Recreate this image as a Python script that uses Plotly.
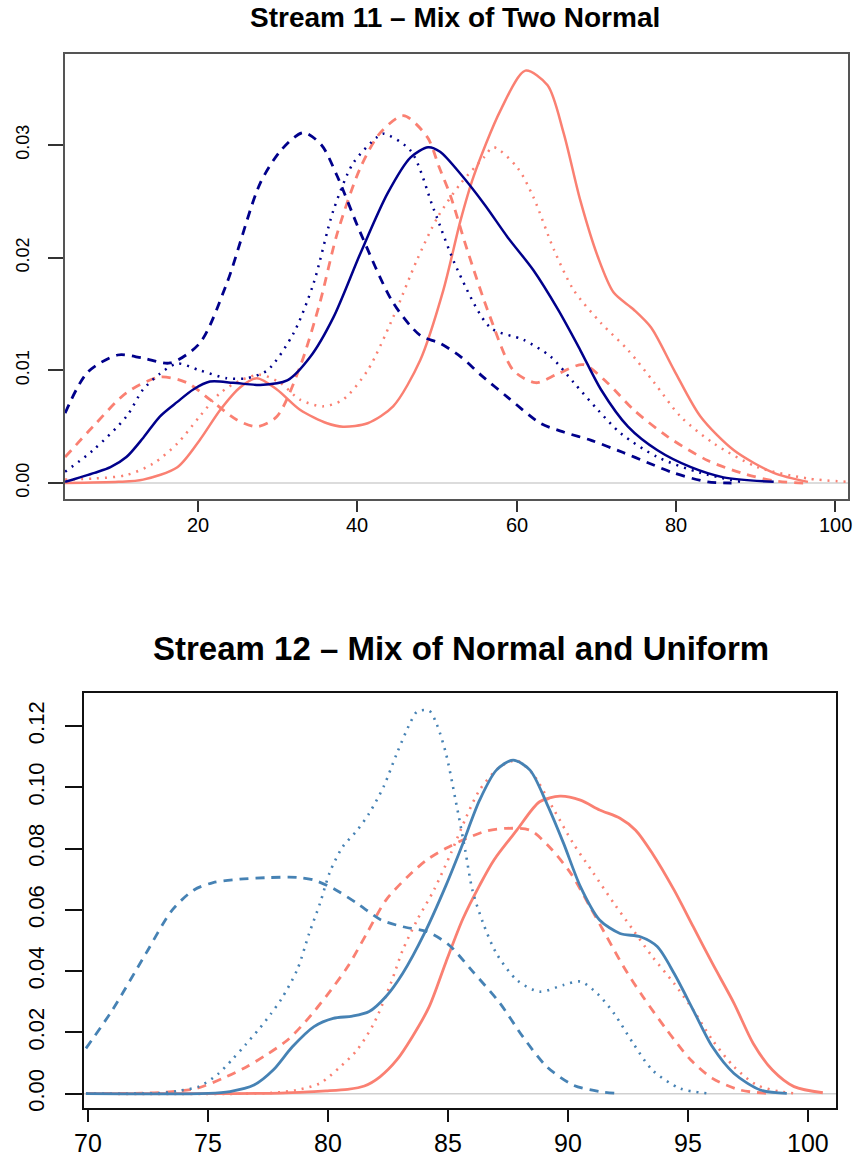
import plotly.graph_objects as go

# ---------------- Stream 11: mix of two normals ----------------
NAVY = "#00008B"
SALMON = "#FA8072"
STEEL = "#4682B4"

s11_navy_solid_x = [3.3, 7, 9, 11, 13.1, 15.2, 17.4, 19.4, 21.5, 24.4, 27.8, 31.2, 34.1, 37, 40.4, 43.8,
                    46.7, 48.9, 50.4, 53, 56, 58.9, 62.1, 65.2, 68, 70.6, 74, 77.7, 81.9, 86, 92.3]
s11_navy_solid_y = [0.0001, 0.0009, 0.0014, 0.0023, 0.004, 0.0059, 0.0072, 0.0083, 0.009, 0.0089, 0.0087,
                    0.0091, 0.0112, 0.0147, 0.0204, 0.0257, 0.0289, 0.0298, 0.0294, 0.0274, 0.0247, 0.0218,
                    0.0189, 0.0154, 0.0118, 0.0083, 0.005, 0.0029, 0.0014, 0.0005, 0.0001]

s11_navy_dash_x = [3.3, 6.1, 9.9, 13, 16.5, 20.2, 23.6, 27.8, 30.5, 33.2, 35.5, 37.5, 40.4, 44.5, 47.9,
                   50.4, 53, 55.5, 58.9, 63, 66, 69.3, 73.4, 76.5, 79.7, 84, 87]
s11_navy_dash_y = [0.0062, 0.0098, 0.01136, 0.0111, 0.01065, 0.0124, 0.0177, 0.0266, 0.0296, 0.0311, 0.0300,
                   0.0272, 0.0222, 0.016, 0.0131, 0.0124, 0.0112, 0.0096, 0.0076, 0.0053, 0.0045, 0.0038,
                   0.0027, 0.0018, 0.0009, 0.0001, 0.0]

s11_navy_dot_x = [3.3, 6.8, 11, 13.1, 15.2, 17.4, 20.2, 23.6, 26.1, 28.7, 32, 34.5, 37, 39.5, 42.5, 43.3,
                  46.7, 49.6, 52.6, 56.7, 60.9, 64.3, 67.2, 70.2, 73.1, 77.7, 83.1, 88.2]
s11_navy_dot_y = [0.001, 0.0029, 0.0059, 0.0083, 0.0097, 0.0106, 0.01, 0.0093, 0.0093, 0.01, 0.0133, 0.0177,
                  0.0242, 0.0284, 0.0307, 0.031, 0.0295, 0.0243, 0.0189, 0.0138, 0.0127, 0.0112, 0.0089,
                  0.0065, 0.0044, 0.0023, 0.0009, 0.0001]

s11_salmon_solid_x = [3.3, 10, 13.1, 17.4, 20.2, 22.8, 25.3, 27.4, 29.9, 32.8, 36.2, 38.2, 41.3, 44.5, 47.9,
                      50.8, 53, 54.6, 58, 61.1, 63.9, 65.9, 68, 70.2, 72.2, 74.7, 76.9, 79.8, 83.1, 87.3,
                      92.3, 96.6]
s11_salmon_solid_y = [0.0, 0.0001, 0.0003, 0.0014, 0.0038, 0.0065, 0.0085, 0.0093, 0.0083, 0.0065, 0.0053,
                      0.005, 0.0053, 0.0068, 0.0109, 0.0171, 0.0234, 0.0272, 0.0331, 0.0366, 0.0353, 0.0311,
                      0.0251, 0.0201, 0.0169, 0.0154, 0.0138, 0.01, 0.0059, 0.0029, 0.0009, 0.0001]

s11_salmon_dash_x = [3.3, 6.8, 11, 15.2, 18.6, 21.5, 24.9, 27.4, 29.9, 32.8, 35.3, 37.5, 40.4, 42.9, 45.8,
                     48.8, 50.3, 51.7, 53.8, 56.7, 59.6, 62.4, 65.2, 68.4, 71.4, 74.7, 79, 84, 88.2, 92.3, 96]
s11_salmon_dash_y = [0.0023, 0.005, 0.008, 0.0094, 0.0089, 0.0074, 0.0056, 0.005, 0.0059, 0.0103, 0.016,
                     0.0222, 0.028, 0.0311, 0.0326, 0.0307, 0.028, 0.0255, 0.0207, 0.0147, 0.01, 0.0089,
                     0.0097, 0.0105, 0.0089, 0.0065, 0.0041, 0.002, 0.0009, 0.0002, 0.0]

s11_salmon_dot_x = [3.3, 7, 11, 14.3, 17.4, 20.2, 22.8, 25.3, 27.8, 30.3, 32.8, 35.7, 38.2, 41.3, 44.5, 47.5,
                    50.1, 53, 55.9, 57.1, 60.1, 62.1, 64.7, 67.2, 70.6, 74, 77.3, 80.6, 84.8, 90.3, 96.6, 101.6]
s11_salmon_dot_y = [0.0003, 0.0004, 0.0007, 0.0017, 0.0035, 0.0059, 0.008, 0.0091, 0.0096, 0.0089, 0.0074,
                    0.0068, 0.0074, 0.01, 0.0147, 0.0198, 0.0236, 0.0266, 0.0289, 0.0298, 0.028, 0.0254,
                    0.0207, 0.0171, 0.0142, 0.0118, 0.0089, 0.0059, 0.0035, 0.0014, 0.0004, 0.0001]

# ---------------- Stream 12: mix of normal and uniform ----------------
s12_steel_solid_x = [69.9, 75, 75.9, 76.9, 77.7, 78.5, 79.4, 80.2, 81.0, 81.7, 82.4, 83.1, 84.0, 84.9, 85.55,
                     86.3, 87.0, 87.7, 88.4, 89.1, 89.8, 90.5, 91.3, 92.15, 93.0, 93.7, 94.4, 95.2, 96.0,
                     96.9, 98.0, 99.1]
s12_steel_solid_y = [0, 0.0001, 0.0007, 0.0028, 0.0077, 0.0153, 0.0219, 0.0246, 0.0253, 0.0268, 0.0317,
                     0.0393, 0.0523, 0.068, 0.0806, 0.0958, 0.1056, 0.1089, 0.1056, 0.0947, 0.0817, 0.0676,
                     0.0567, 0.0523, 0.0512, 0.048, 0.0393, 0.0273, 0.0153, 0.0066, 0.0012, 0.0001]

s12_steel_dash_x = [69.9, 71.0, 72.4, 73.5, 74.4, 75.2, 76.3, 77.4, 78.7, 79.4, 80.2, 81.2, 82.2, 83.1, 84.1,
                    85.0, 86.0, 87.15, 88.1, 89.1, 90.2, 91.3, 92.2]
s12_steel_dash_y = [0.0148, 0.0273, 0.0458, 0.06, 0.0665, 0.0689, 0.07, 0.0705, 0.0706, 0.0697, 0.067,
                    0.0621, 0.0567, 0.0545, 0.0529, 0.0487, 0.04, 0.0295, 0.0186, 0.0088, 0.0028, 0.0007, 0.0]

s12_steel_dot_x = [69.9, 73.0, 73.8, 74.6, 75.4, 76.0, 76.55, 77.1, 77.6, 78.05, 78.7, 79.2, 79.65, 80.07,
                   80.6, 81.2, 81.7, 82.3, 82.85, 83.4, 83.7, 84.2, 84.5, 84.9, 85.3, 85.7, 86.0, 86.45,
                   87.0, 87.85, 88.8, 89.8, 90.5, 91.2, 91.9, 92.7, 93.5, 94.65, 95.8]
s12_steel_dot_y = [0, 0.0002, 0.001, 0.0023, 0.0064, 0.0112, 0.016, 0.021, 0.026, 0.031, 0.0404, 0.0523,
                   0.0621, 0.0725, 0.0806, 0.086, 0.0915, 0.1002, 0.111, 0.1209, 0.1247, 0.125, 0.1209,
                   0.111, 0.0958, 0.0795, 0.0665, 0.0556, 0.0458, 0.0371, 0.0333, 0.0355, 0.0366, 0.0327,
                   0.0262, 0.0164, 0.0077, 0.0017, 0.0001]

s12_salmon_solid_x = [69.9, 78, 79.4, 79.9, 80.8, 81.5, 82.15, 82.85, 83.5, 84.2, 84.9, 85.6, 86.3, 86.9,
                      87.85, 88.8, 89.65, 90.5, 91.3, 92.15, 92.8, 93.5, 94.4, 95.2, 96.0, 96.9, 97.7, 98.5,
                      99.4, 100.6]
s12_salmon_solid_y = [0, 0.0002, 0.0007, 0.0009, 0.0014, 0.0025, 0.0055, 0.011, 0.0186, 0.0284, 0.043,
                      0.057, 0.068, 0.0763, 0.086, 0.0953, 0.0971, 0.0958, 0.0926, 0.0899, 0.086, 0.0784,
                      0.0665, 0.0545, 0.0425, 0.0295, 0.0164, 0.0077, 0.0023, 0.0003]

s12_salmon_dash_x = [69.9, 72.5, 73.5, 74.5, 75.6, 76.6, 77.4, 78.3, 79.1, 79.9, 80.8, 81.6, 82.4, 83.3,
                     84.1, 84.9, 85.75, 86.6, 87.4, 88.4, 89.2, 90.1, 90.9, 91.6, 92.3, 93.1, 94.1, 95.1,
                     96.0, 97.15, 98.3]
s12_salmon_dash_y = [0, 0.0002, 0.0007, 0.0017, 0.005, 0.0088, 0.0126, 0.0175, 0.024, 0.0317, 0.0414,
                     0.0523, 0.0632, 0.0708, 0.0763, 0.0801, 0.0833, 0.0858, 0.0866, 0.086, 0.0806, 0.0719,
                     0.061, 0.0512, 0.0414, 0.0317, 0.0208, 0.011, 0.005, 0.0012, 0.0001]

s12_salmon_dot_x = [69.9, 77.5, 78.7, 79.65, 80.5, 81.2, 81.9, 82.6, 83.1, 83.7, 84.4, 85.1, 85.75, 86.3,
                    87.15, 87.85, 88.5, 89.4, 90.2, 91.05, 91.9, 92.7, 93.5, 94.4, 95.2, 96.0, 96.9, 97.85,
                    98.8, 99.6]
s12_salmon_dot_y = [0, 0.0002, 0.0012, 0.0034, 0.0088, 0.0143, 0.023, 0.036, 0.0469, 0.0567, 0.0665,
                    0.0784, 0.0904, 0.0991, 0.1067, 0.1087, 0.1045, 0.0926, 0.0817, 0.0719, 0.0621, 0.0534,
                    0.0447, 0.036, 0.0273, 0.0175, 0.0088, 0.0028, 0.0007, 0.0]

s11_xticks = [20, 40, 60, 80, 100]
s11_yticks = [0.00, 0.01, 0.02, 0.03]
s12_xticks = [70, 75, 80, 85, 90, 95, 100]
s12_yticks = [0.00, 0.02, 0.04, 0.06, 0.08, 0.10, 0.12]

DASH = "9px,7px"
DOT = "2px,6px"

fig = go.Figure()


def add_curve(x, y, color, dash, width, xa, ya, name):
    fig.add_trace(go.Scatter(
        x=x, y=y, mode="lines", name=name, xaxis=xa, yaxis=ya,
        line=dict(color=color, width=width, dash=dash, shape="spline", smoothing=0.8),
        hoverinfo="skip", showlegend=False,
    ))


# top panel
add_curve(s11_salmon_dot_x, s11_salmon_dot_y, SALMON, DOT, 2.5, "x", "y", "salmon dotted")
add_curve(s11_salmon_dash_x, s11_salmon_dash_y, SALMON, DASH, 2.8, "x", "y", "salmon dashed")
add_curve(s11_salmon_solid_x, s11_salmon_solid_y, SALMON, "solid", 2.5, "x", "y", "salmon solid")
add_curve(s11_navy_dot_x, s11_navy_dot_y, NAVY, DOT, 2.5, "x", "y", "navy dotted")
add_curve(s11_navy_dash_x, s11_navy_dash_y, NAVY, DASH, 2.8, "x", "y", "navy dashed")
add_curve(s11_navy_solid_x, s11_navy_solid_y, NAVY, "solid", 2.5, "x", "y", "navy solid")

# bottom panel
add_curve(s12_salmon_dot_x, s12_salmon_dot_y, SALMON, DOT, 2.6, "x2", "y2", "salmon dotted")
add_curve(s12_salmon_dash_x, s12_salmon_dash_y, SALMON, DASH, 2.8, "x2", "y2", "salmon dashed")
add_curve(s12_salmon_solid_x, s12_salmon_solid_y, SALMON, "solid", 2.8, "x2", "y2", "salmon solid")
add_curve(s12_steel_dot_x, s12_steel_dot_y, STEEL, DOT, 2.6, "x2", "y2", "steel dotted")
add_curve(s12_steel_dash_x, s12_steel_dash_y, STEEL, DASH, 2.8, "x2", "y2", "steel dashed")
add_curve(s12_steel_solid_x, s12_steel_solid_y, STEEL, "solid", 2.8, "x2", "y2", "steel solid")

FONT = "Liberation Sans, Arial, sans-serif"

common = dict(showgrid=False, showline=True, mirror=True, ticks="outside", zeroline=False,
              automargin=False)

# x tick labels are placed as annotations so they sit at a fixed distance below each panel
tick_annotations = []
for v in s11_xticks:
    tick_annotations.append(dict(text=str(v), xref="x", yref="paper", x=v, y=0.5466,
                                 xanchor="center", yanchor="middle", showarrow=False,
                                 font=dict(size=20, family=FONT, color="black")))
for v in s12_xticks:
    tick_annotations.append(dict(text=str(v), xref="x2", yref="paper", x=v, y=0.0132,
                                 xanchor="center", yanchor="middle", showarrow=False,
                                 font=dict(size=25, family=FONT, color="black")))

fig.update_layout(
    width=861, height=1158,
    margin=dict(l=0, r=0, t=0, b=0, pad=0, autoexpand=False),
    paper_bgcolor="white", plot_bgcolor="white",
    font=dict(family=FONT, color="black"),
    xaxis=dict(domain=[0.0755, 0.9849], range=[3.29, 101.63], anchor="y",
               tickvals=s11_xticks, showticklabels=False, ticklen=11, tickwidth=1.5, tickcolor="#333",
               linecolor="#555", linewidth=2, **common),
    yaxis=dict(domain=[0.5691, 0.9534], range=[-0.00142, 0.03808], anchor="x",
               tickvals=s11_yticks, tickformat=".2f", tickangle=-90, ticklen=15, tickwidth=1.5,
               tickcolor="#333", linecolor="#555", linewidth=2, tickfont=dict(size=18),
               ticklabelstandoff=12, **common),
    xaxis2=dict(domain=[0.0976, 0.9710], range=[69.82, 101.15], anchor="y2",
                tickvals=s12_xticks, showticklabels=False, ticklen=12, tickwidth=1.5, tickcolor="#111",
                linecolor="#111", linewidth=1.5, **common),
    yaxis2=dict(domain=[0.0432, 0.4016], range=[-0.00467, 0.1308], anchor="x2",
                tickvals=s12_yticks, tickformat=".2f", tickangle=-90, ticklen=17, tickwidth=1.5,
                tickcolor="#111", linecolor="#111", linewidth=1.5, tickfont=dict(size=22),
                ticklabelstandoff=12, **common),
    annotations=[
        dict(text="<b>Stream 11 \u2013 Mix of Two Normal</b>", xref="paper", yref="paper",
             x=0.528, y=0.9845, xanchor="center", yanchor="middle", showarrow=False,
             font=dict(size=28, family=FONT)),
        dict(text="<b>Stream 12 \u2013 Mix of Normal and Uniform</b>", xref="paper", yref="paper",
             x=0.535, y=0.4404, xanchor="center", yanchor="middle", showarrow=False,
             font=dict(size=33, family=FONT)),
    ] + tick_annotations,
    shapes=[
        dict(type="line", xref="x domain", yref="y", x0=0, x1=1, y0=0, y1=0,
             line=dict(color="#d0d0d0", width=1.5), layer="below"),
        dict(type="line", xref="x2 domain", yref="y2", x0=0, x1=1, y0=0, y1=0,
             line=dict(color="#d0d0d0", width=1.5), layer="below"),
    ],
)

fig.write_html("out.html")
